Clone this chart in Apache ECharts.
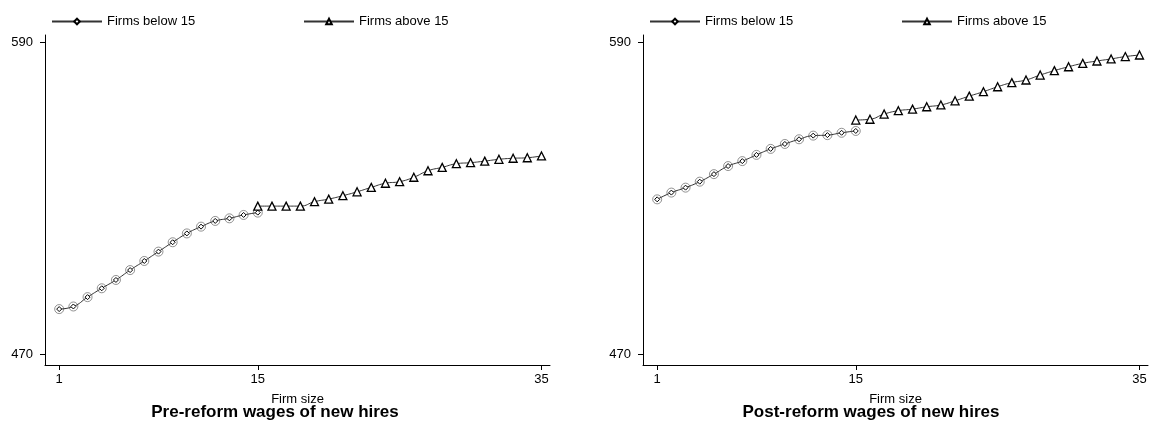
<!DOCTYPE html>
<html>
<head>
<meta charset="utf-8">
<script src="https://cdn.jsdelivr.net/npm/echarts@6/dist/echarts.min.js"></script>
<style>
  html, body { margin: 0; padding: 0; background: #fff; }
  #chart { width: 1155px; height: 426px; }
</style>
</head>
<body>
<div id="chart"></div>
<script>
// firm sizes
const sizeBelow = [1, 2, 3, 4, 5, 6, 7, 8, 9, 10, 11, 12, 13, 14, 15]
const sizeAbove = [15, 16, 17, 18, 19, 20, 21, 22, 23, 24, 25, 26, 27, 28, 29, 30, 31, 32, 33, 34, 35]

// pre-reform wages of new hires
const preBelow = [487.4, 488.4, 492.0, 495.4, 498.6, 502.4, 505.9, 509.5, 513.1, 516.5, 519.1, 521.3, 522.3, 523.6, 524.5]
const preAbove = [527.0, 527.0, 527.0, 527.0, 528.7, 529.7, 531.0, 532.5, 534.2, 535.8, 536.4, 538.1, 540.6, 541.9, 543.3, 543.7, 544.3, 545.0, 545.4, 545.6, 546.3]

// post-reform wages of new hires
const postBelow = [529.6, 532.2, 534.1, 536.4, 539.3, 542.4, 544.3, 546.7, 549.0, 550.9, 552.7, 554.1, 554.3, 555.2, 555.9]
const postAbove = [560.1, 560.4, 562.4, 563.7, 564.3, 565.2, 565.9, 567.5, 569.3, 571.0, 572.9, 574.5, 575.5, 577.4, 579.1, 580.6, 581.9, 582.8, 583.6, 584.5, 585.1]

const xTicks = [1, 15, 35]
const yTicks = [470, 590]
const titles = ['Pre-reform wages of new hires', 'Post-reform wages of new hires']

const font = 'Liberation Sans, Arial, sans-serif'

const pairs = (xs, ys) => xs.map((x, i) => [x, ys[i]])

const makeX = (idx) => ({
  type: 'value', gridIndex: idx, min: 0, max: 35.6,
  name: 'Firm size', nameLocation: 'middle', nameGap: 28,
  nameTextStyle: {fontSize: 13, color: '#000', fontFamily: font},
  axisLine: {show: true, lineStyle: {color: '#000', width: 1}},
  axisTick: {show: true, length: 5, customValues: xTicks, lineStyle: {color: '#000'}},
  axisLabel: {customValues: xTicks, margin: 8, fontSize: 13, color: '#000', fontFamily: font},
  splitLine: {show: false}
})

const makeY = (idx) => ({
  type: 'value', gridIndex: idx, min: 465.9, max: 592.8,
  axisLine: {show: true, lineStyle: {color: '#000', width: 1}},
  axisTick: {show: true, length: 5, customValues: yTicks, lineStyle: {color: '#000'}},
  axisLabel: {customValues: yTicks, margin: 12, fontSize: 13, color: '#000', fontFamily: font},
  splitLine: {show: false}
})

const makeSeries = (idx, below, above) => [
  {
    name: 'Firms below 15', type: 'line', xAxisIndex: idx, yAxisIndex: idx,
    data: pairs(sizeBelow, below), smooth: true,
    symbol: 'diamond', symbolSize: 5,
    lineStyle: {color: '#333', width: 1},
    itemStyle: {color: '#fff', borderColor: '#000', borderWidth: 1}
  },
  {
    name: 'obs below', type: 'scatter', xAxisIndex: idx, yAxisIndex: idx,
    data: pairs(sizeBelow, below), symbol: 'circle', symbolSize: 9,
    itemStyle: {color: 'rgba(0,0,0,0)', borderColor: '#777', borderWidth: 1},
    z: 1
  },
  {
    name: 'Firms above 15', type: 'line', xAxisIndex: idx, yAxisIndex: idx,
    data: pairs(sizeAbove, above), smooth: true,
    symbol: 'triangle', symbolSize: 8,
    lineStyle: {color: '#333', width: 1},
    itemStyle: {color: '#fff', borderColor: '#000', borderWidth: 1.3}
  }
]

const legendAt = (name, left) => ({
  data: [name], left: left, top: 10, itemWidth: 50, itemHeight: 7,
  textStyle: {fontSize: 13, color: '#000', fontFamily: font},
  selectedMode: false
})

const chart = echarts.init(document.getElementById('chart'))
chart.setOption({
  animation: false,
  backgroundColor: '#fff',
  title: [
    {text: titles[0], left: 270, top: 399, textAlign: 'center',
      textStyle: {fontSize: 17, fontWeight: 'bold', color: '#000', fontFamily: font}},
    {text: titles[1], left: 866, top: 399, textAlign: 'center',
      textStyle: {fontSize: 17, fontWeight: 'bold', color: '#000', fontFamily: font}}
  ],
  legend: [
    legendAt('Firms below 15', 46),
    legendAt('Firms above 15', 298),
    legendAt('Firms below 15', 644),
    legendAt('Firms above 15', 896)
  ],
  grid: [
    {left: 45, top: 35, width: 505, height: 330},
    {left: 643, top: 35, width: 505, height: 330}
  ],
  xAxis: [makeX(0), makeX(1)],
  yAxis: [makeY(0), makeY(1)],
  series: [
    ...makeSeries(0, preBelow, preAbove),
    ...makeSeries(1, postBelow, postAbove)
  ]
})
</script>
</body>
</html>
